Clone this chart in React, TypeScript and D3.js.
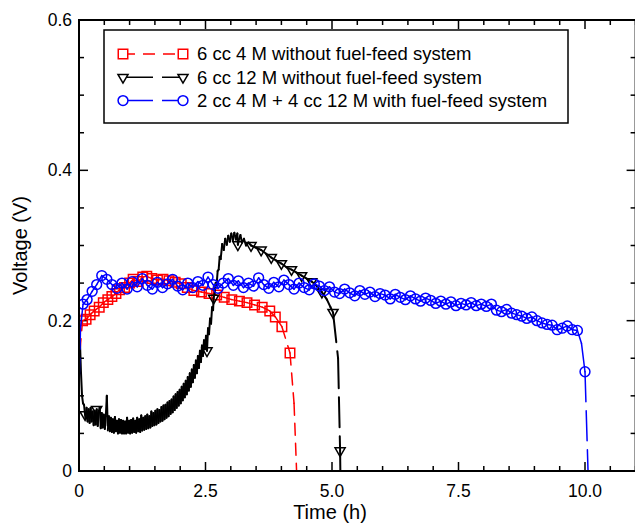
import React, { useEffect, useRef } from 'react';
import * as d3 from 'd3';

// [time (h), voltage (V), marker 1/0]
const redSeries: [number, number, number][] = [
    [0.02, 0.16, 0], [0.07, 0.2, 1], [0.14, 0.202, 1], [0.22, 0.208, 1], [0.3, 0.213, 1],
    [0.4, 0.218, 1], [0.48, 0.224, 1], [0.57, 0.228, 1], [0.65, 0.232, 1], [0.73, 0.236, 1],
    [0.8, 0.241, 1], [0.9, 0.244, 1], [1.0, 0.25, 1], [1.07, 0.255, 1], [1.17, 0.252, 1],
    [1.26, 0.258, 1], [1.34, 0.259, 1], [1.44, 0.256, 1], [1.55, 0.254, 1], [1.66, 0.255, 1],
    [1.78, 0.253, 1], [1.9, 0.251, 1], [2.02, 0.249, 1], [2.14, 0.244, 1], [2.27, 0.24, 1],
    [2.42, 0.238, 1], [2.57, 0.236, 1], [2.72, 0.234, 1], [2.87, 0.231, 1], [3.02, 0.228, 1],
    [3.17, 0.226, 1], [3.32, 0.224, 1], [3.47, 0.221, 1], [3.62, 0.218, 1], [3.77, 0.213, 1],
    [3.88, 0.205, 1], [4.01, 0.192, 1], [4.17, 0.157, 1], [4.25, 0.09, 0], [4.3, 0, 0]
];

const blackSeries: [number, number, number][] = [
    [0.0, 0.2, 0], [0.02, 0.17, 0], [0.04, 0.13, 0], [0.06, 0.1, 0], [0.08, 0.09, 0],
    [0.1, 0.088, 0], [0.12, 0.075, 1], [0.13, 0.07, 0], [0.15, 0.084, 0], [0.17, 0.066, 0],
    [0.19, 0.082, 0], [0.21, 0.064, 0], [0.23, 0.084, 0], [0.25, 0.066, 0], [0.27, 0.079, 0],
    [0.29, 0.061, 0], [0.31, 0.08, 0], [0.33, 0.062, 0], [0.35, 0.082, 1], [0.37, 0.06, 0],
    [0.39, 0.079, 0], [0.41, 0.085, 0], [0.43, 0.057, 0], [0.45, 0.077, 0], [0.47, 0.058, 0],
    [0.49, 0.075, 0], [0.51, 0.056, 0], [0.53, 0.073, 0], [0.55, 0.1, 0], [0.57, 0.054, 0],
    [0.59, 0.073, 0], [0.61, 0.053, 0], [0.63, 0.071, 0], [0.65, 0.052, 0], [0.67, 0.069, 0],
    [0.69, 0.051, 0], [0.71, 0.072, 0], [0.73, 0.053, 0], [0.75, 0.067, 0], [0.77, 0.05, 0],
    [0.79, 0.069, 0], [0.81, 0.051, 0], [0.83, 0.068, 0], [0.85, 0.05, 0], [0.87, 0.067, 0],
    [0.89, 0.05, 0], [0.91, 0.066, 0], [0.93, 0.05, 0], [0.95, 0.071, 0], [0.97, 0.051, 0],
    [0.99, 0.067, 0], [1.01, 0.05, 0], [1.03, 0.068, 0], [1.05, 0.051, 0], [1.07, 0.07, 0],
    [1.09, 0.052, 0], [1.11, 0.067, 0], [1.13, 0.051, 0], [1.15, 0.071, 0], [1.17, 0.053, 0],
    [1.19, 0.069, 0], [1.21, 0.052, 0], [1.23, 0.074, 0], [1.25, 0.054, 0], [1.27, 0.071, 0],
    [1.29, 0.055, 0], [1.31, 0.073, 0], [1.33, 0.056, 0], [1.35, 0.075, 0], [1.37, 0.057, 0],
    [1.39, 0.073, 0], [1.41, 0.058, 0], [1.43, 0.079, 0], [1.45, 0.06, 0], [1.47, 0.077, 0],
    [1.49, 0.061, 0], [1.51, 0.08, 0], [1.53, 0.062, 0], [1.55, 0.082, 0], [1.57, 0.064, 0],
    [1.59, 0.081, 0], [1.61, 0.066, 0], [1.63, 0.085, 0], [1.65, 0.067, 0], [1.67, 0.087, 0],
    [1.69, 0.069, 0], [1.71, 0.088, 0], [1.73, 0.071, 0], [1.75, 0.091, 0], [1.77, 0.073, 0],
    [1.79, 0.093, 0], [1.81, 0.076, 0], [1.83, 0.095, 0], [1.85, 0.078, 0], [1.87, 0.099, 0],
    [1.89, 0.081, 0], [1.91, 0.102, 0], [1.93, 0.084, 0], [1.95, 0.105, 0], [1.97, 0.087, 0],
    [1.99, 0.108, 0], [2.01, 0.09, 0], [2.03, 0.112, 0], [2.05, 0.094, 0], [2.07, 0.116, 0],
    [2.09, 0.098, 0], [2.11, 0.12, 0], [2.13, 0.102, 0], [2.15, 0.125, 0], [2.17, 0.107, 0],
    [2.19, 0.13, 0], [2.21, 0.112, 0], [2.23, 0.135, 0], [2.25, 0.118, 0], [2.27, 0.141, 0],
    [2.29, 0.124, 0], [2.31, 0.147, 0], [2.33, 0.13, 0], [2.35, 0.153, 0], [2.37, 0.137, 0],
    [2.39, 0.16, 0], [2.41, 0.145, 0], [2.43, 0.167, 0], [2.45, 0.153, 0], [2.47, 0.174, 0],
    [2.49, 0.162, 0], [2.51, 0.18, 0], [2.53, 0.16, 1], [2.55, 0.19, 0], [2.57, 0.182, 0],
    [2.59, 0.203, 0], [2.61, 0.196, 0], [2.63, 0.218, 0], [2.65, 0.214, 0], [2.66, 0.23, 1],
    [2.68, 0.236, 0], [2.7, 0.25, 0], [2.72, 0.248, 0], [2.74, 0.266, 0], [2.76, 0.268, 0],
    [2.78, 0.285, 0], [2.8, 0.282, 0], [2.83, 0.302, 0], [2.86, 0.294, 0], [2.89, 0.309, 0],
    [2.92, 0.301, 0], [2.95, 0.313, 0], [2.98, 0.305, 0], [3.01, 0.316, 0], [3.04, 0.307, 0],
    [3.07, 0.317, 0], [3.1, 0.308, 0], [3.13, 0.316, 0], [3.14, 0.301, 1], [3.16, 0.308, 0],
    [3.19, 0.314, 0], [3.22, 0.304, 0], [3.26, 0.309, 0], [3.3, 0.3, 0], [3.35, 0.304, 0],
    [3.4, 0.3, 1], [3.5, 0.297, 0], [3.6, 0.294, 1], [3.7, 0.289, 0], [3.8, 0.284, 1],
    [3.9, 0.28, 0], [4.0, 0.276, 1], [4.1, 0.271, 0], [4.2, 0.268, 1], [4.3, 0.264, 0],
    [4.4, 0.26, 1], [4.5, 0.256, 0], [4.6, 0.252, 1], [4.7, 0.246, 0], [4.8, 0.238, 1],
    [4.9, 0.228, 0], [4.97, 0.218, 0], [5.02, 0.211, 1], [5.12, 0.15, 0], [5.16, 0.027, 1],
    [5.165, 0, 0]
];

const blueSeries: [number, number, number][] = [
    [0.0, 0.11, 0], [0.03, 0.19, 0], [0.08, 0.222, 1], [0.16, 0.228, 1], [0.26, 0.239, 1],
    [0.35, 0.248, 1], [0.45, 0.26, 1], [0.55, 0.255, 1], [0.65, 0.248, 1], [0.75, 0.243, 1],
    [0.85, 0.25, 1], [0.95, 0.242, 1], [1.05, 0.252, 1], [1.15, 0.245, 1], [1.25, 0.256, 1],
    [1.35, 0.247, 1], [1.45, 0.242, 1], [1.55, 0.251, 1], [1.65, 0.244, 1], [1.75, 0.249, 1],
    [1.85, 0.255, 1], [1.95, 0.246, 1], [2.05, 0.241, 1], [2.15, 0.25, 1], [2.25, 0.244, 1],
    [2.35, 0.252, 1], [2.45, 0.247, 1], [2.55, 0.258, 1], [2.65, 0.248, 1], [2.75, 0.243, 1],
    [2.85, 0.25, 1], [2.95, 0.256, 1], [3.05, 0.247, 1], [3.15, 0.253, 1], [3.25, 0.244, 1],
    [3.35, 0.25, 1], [3.45, 0.246, 1], [3.55, 0.257, 1], [3.65, 0.248, 1], [3.75, 0.243, 1],
    [3.85, 0.251, 1], [3.95, 0.245, 1], [4.05, 0.254, 1], [4.15, 0.248, 1], [4.25, 0.242, 1],
    [4.35, 0.25, 1], [4.45, 0.244, 1], [4.55, 0.241, 1], [4.65, 0.249, 1], [4.75, 0.246, 1],
    [4.85, 0.24, 1], [4.95, 0.245, 1], [5.05, 0.238, 1], [5.15, 0.236, 1], [5.25, 0.242, 1],
    [5.35, 0.237, 1], [5.45, 0.233, 1], [5.55, 0.24, 1], [5.65, 0.235, 1], [5.75, 0.238, 1],
    [5.85, 0.232, 1], [5.95, 0.236, 1], [6.05, 0.234, 1], [6.15, 0.229, 1], [6.25, 0.235, 1],
    [6.35, 0.231, 1], [6.45, 0.228, 1], [6.55, 0.233, 1], [6.65, 0.229, 1], [6.75, 0.226, 1],
    [6.85, 0.23, 1], [6.95, 0.227, 1], [7.05, 0.223, 1], [7.15, 0.226, 1], [7.25, 0.222, 1],
    [7.35, 0.225, 1], [7.45, 0.22, 1], [7.55, 0.223, 1], [7.65, 0.221, 1], [7.75, 0.224, 1],
    [7.85, 0.22, 1], [7.95, 0.222, 1], [8.05, 0.219, 1], [8.15, 0.222, 1], [8.25, 0.214, 1],
    [8.35, 0.212, 1], [8.45, 0.215, 1], [8.55, 0.21, 1], [8.65, 0.208, 1], [8.75, 0.206, 1],
    [8.85, 0.203, 1], [8.95, 0.205, 1], [9.05, 0.2, 1], [9.15, 0.197, 1], [9.25, 0.195, 1],
    [9.35, 0.194, 1], [9.45, 0.188, 1], [9.55, 0.19, 1], [9.65, 0.193, 1], [9.75, 0.188, 1],
    [9.85, 0.187, 1], [9.93, 0.17, 0], [10.0, 0.132, 1], [10.06, 0, 0]
];

const seriesLabels = [
    '6 cc 4 M without fuel-feed system',
    '6 cc 12 M without fuel-feed system',
    '2 cc 4 M + 4 cc 12 M with fuel-feed system'
];
const seriesColors = ['#ff0000', '#000000', '#0000ff'];

const xTickValues = [0, 2.5, 5, 7.5, 10];
const xTickLabels = ['0', '2.5', '5.0', '7.5', '10.0'];
const yTickValues = [0, 0.2, 0.4, 0.6];
const yTickLabels = ['0', '0.2', '0.4', '0.6'];

const FONT = '"Liberation Sans", Arial, sans-serif';

function App() {
    const ref = useRef<SVGSVGElement>(null);

    useEffect(() => {
        const svg = d3.select(ref.current);
        svg.selectAll('*').remove();

        const left = 79, right = 635.6, top = 20, bottom = 471;
        const x = d3.scaleLinear().domain([0, 11]).range([left, right]);
        const y = d3.scaleLinear().domain([0, 0.6]).range([bottom, top]);

        svg.append('clipPath').attr('id', 'plot-clip')
            .append('rect')
            .attr('x', left).attr('y', top)
            .attr('width', right - left).attr('height', bottom - top);

        // ticks, inward on all four sides
        const ticks = svg.append('g').attr('stroke', '#000').attr('stroke-width', 1.5);
        d3.range(0, 22.01, 1).forEach(k => {
            const t = k * 0.5;
            const len = k % 5 === 0 ? 9 : 5;
            ticks.append('line').attr('x1', x(t)).attr('x2', x(t)).attr('y1', bottom).attr('y2', bottom - len);
            ticks.append('line').attr('x1', x(t)).attr('x2', x(t)).attr('y1', top).attr('y2', top + len);
        });
        d3.range(0, 12.01, 1).forEach(k => {
            const v = k * 0.05;
            const len = k % 4 === 0 ? 9 : 5;
            ticks.append('line').attr('x1', left).attr('x2', left + len).attr('y1', y(v)).attr('y2', y(v));
            ticks.append('line').attr('x1', right).attr('x2', right - len).attr('y1', y(v)).attr('y2', y(v));
        });

        // tick labels
        svg.append('g').selectAll('text').data(xTickValues).enter().append('text')
            .attr('x', d => x(d)).attr('y', 497)
            .attr('text-anchor', 'middle')
            .style('font-family', FONT).style('font-size', '17.5px')
            .text((d, i) => xTickLabels[i]);
        svg.append('g').selectAll('text').data(yTickValues).enter().append('text')
            .attr('x', 72).attr('y', d => y(d)).attr('dy', '0.35em')
            .attr('text-anchor', 'end')
            .style('font-family', FONT).style('font-size', '17.5px')
            .text((d, i) => yTickLabels[i]);

        // axis titles
        svg.append('text').attr('x', 330).attr('y', 519).attr('text-anchor', 'middle')
            .style('font-family', FONT).style('font-size', '20px').text('Time (h)');
        svg.append('text').attr('transform', 'translate(27,' + ((top + bottom) / 2) + ')rotate(-90)')
            .attr('text-anchor', 'middle')
            .style('font-family', FONT).style('font-size', '20px').text('Voltage (V)');

        const plot = svg.append('g').attr('clip-path', 'url(#plot-clip)');

        const square = d3.symbol().type(d3.symbolSquare).size(90)();
        const tri = d3.symbol().type(d3.symbolTriangle).size(44)();
        const circle = d3.symbol().type(d3.symbolCircle).size(76)();

        const defs = [
            { data: redSeries, dash: '12,8', shape: square, rot: 0, w: 1.5 },
            { data: blackSeries, dash: '30,9', shape: tri, rot: 180, w: 2 },
            { data: blueSeries, dash: '30,9', shape: circle, rot: 0, w: 1.5 }
        ];

        defs.forEach((s, i) => {
            // each segment carries its own dash pattern, so dense data looks solid
            const segs = d3.pairs(s.data);
            plot.append('g').selectAll('line').data(segs).enter().append('line')
                .attr('x1', d => x(d[0][0])).attr('y1', d => y(d[0][1]))
                .attr('x2', d => x(d[1][0])).attr('y2', d => y(d[1][1]))
                .attr('stroke', seriesColors[i])
                .attr('stroke-width', s.w)
                .attr('stroke-linecap', 'round')
                .attr('stroke-dasharray', s.dash);
            plot.append('g').selectAll('path').data(s.data.filter(d => d[2] === 1)).enter()
                .append('path')
                .attr('d', s.shape)
                .attr('transform', d => 'translate(' + x(d[0]) + ',' + y(d[1]) + ')rotate(' + s.rot + ')')
                .attr('fill', 'none')
                .attr('stroke', seriesColors[i])
                .attr('stroke-width', 1.5);
        });

        // frame
        svg.append('rect')
            .attr('x', left).attr('y', top)
            .attr('width', right - left).attr('height', bottom - top)
            .attr('fill', 'none').attr('stroke', '#000').attr('stroke-width', 2);

        // legend
        const legend = svg.append('g');
        legend.append('rect')
            .attr('x', 104).attr('y', 30).attr('width', 464).attr('height', 93)
            .attr('fill', '#fff').attr('stroke', '#000').attr('stroke-width', 1.5);
        defs.forEach((s, i) => {
            const ly = 54 + i * 23.3;
            legend.append('line')
                .attr('x1', 123).attr('x2', 183).attr('y1', ly).attr('y2', ly)
                .attr('stroke', seriesColors[i]).attr('stroke-width', 1.5)
                .attr('stroke-dasharray', s.dash);
            [123, 183].forEach(lx => {
                legend.append('path').attr('d', s.shape)
                    .attr('transform', 'translate(' + lx + ',' + ly + ')rotate(' + s.rot + ')')
                    .attr('fill', '#fff').attr('stroke', seriesColors[i]).attr('stroke-width', 1.5);
            });
            legend.append('text')
                .attr('x', 197).attr('y', ly).attr('dy', '0.35em')
                .style('font-family', FONT).style('font-size', '18.5px')
                .text(seriesLabels[i]);
        });
    }, []);

    return (
        <svg ref={ref} width={635} height={525}
            style={{ position: 'absolute', left: 0, top: 0, background: '#fff' }} />
    );
}

export default App;
